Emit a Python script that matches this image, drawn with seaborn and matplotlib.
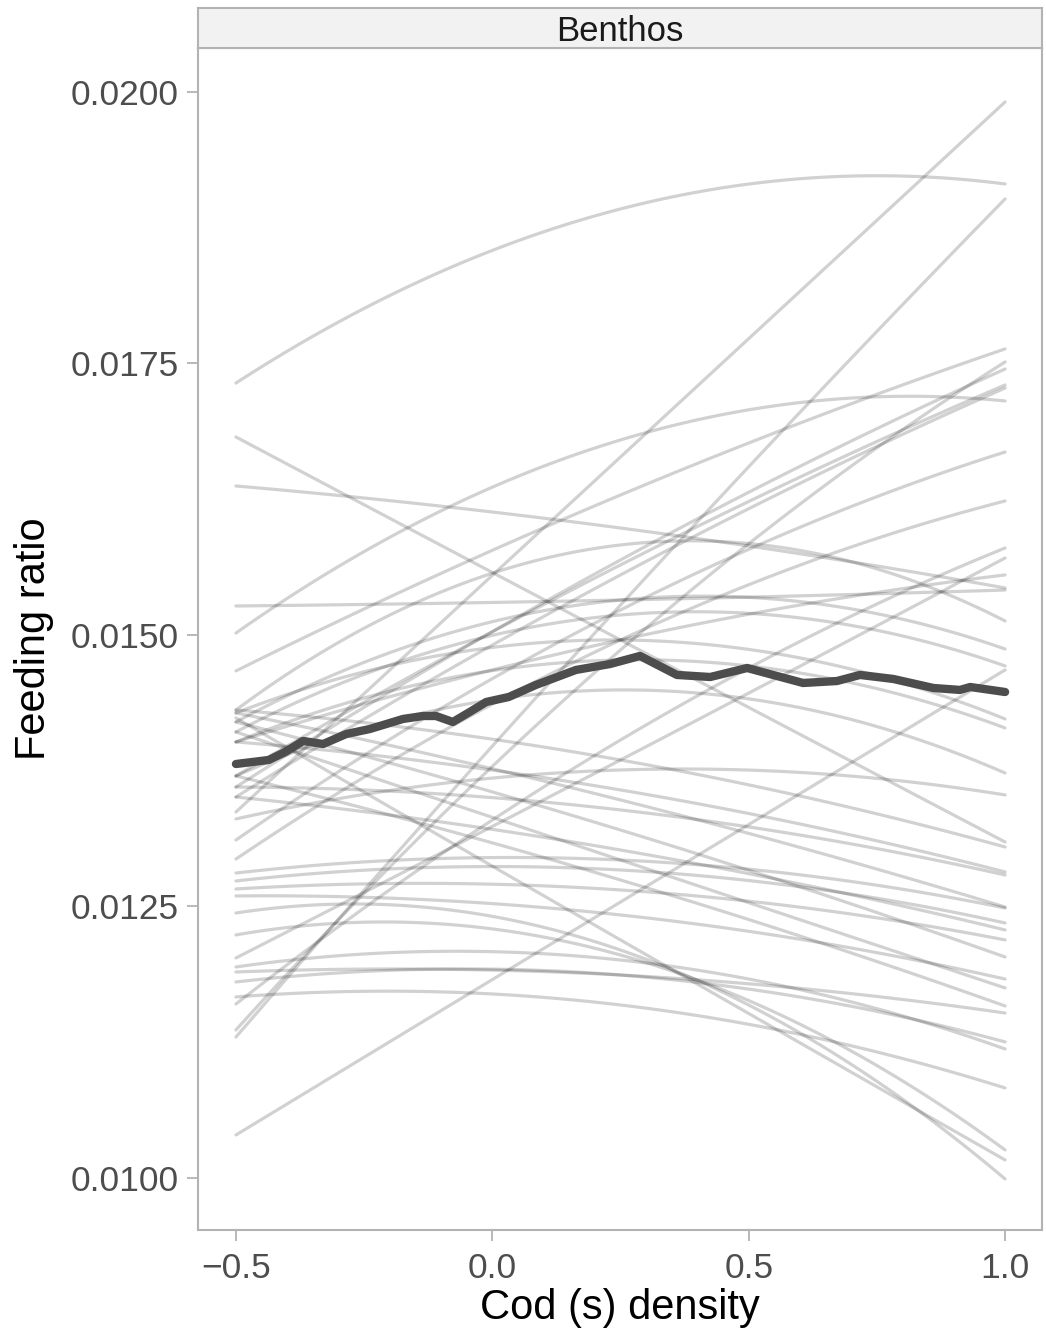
import numpy as np
import pandas as pd
import matplotlib
matplotlib.use("Agg")
import matplotlib.pyplot as plt
import seaborn as sns

# Posterior draws: each curve is a quadratic in cod density, fixed by its
# predicted feeding ratio at density -0.5, 0.25 and 1.0
x_knots = [-0.5, 0.25, 1.0]

draw_start = [
    0.017320, 0.013370, 0.011298, 0.015018, 0.014669, 0.011363, 0.013600,
    0.013702, 0.013508, 0.013112, 0.012937, 0.011602, 0.012026, 0.014015,
    0.010396,
    0.016823, 0.016372, 0.015267, 0.014236, 0.012440, 0.012238, 0.011667,
    0.011943, 0.011805, 0.011897, 0.014309, 0.014199, 0.014107, 0.014282,
    0.014015, 0.013702, 0.013306, 0.014309, 0.014015, 0.013600, 0.014282,
    0.012808, 0.012735, 0.013508, 0.012661, 0.014199, 0.012597, 0.014107,
    0.013702,
]
draw_mid = [
    0.018923, 0.016639, 0.015276, 0.016796, 0.016289, 0.014862, 0.015691,
    0.015645, 0.015553, 0.015230, 0.014954, 0.014033, 0.013849, 0.014954,
    0.012541,
    0.014954, 0.015985, 0.015322, 0.012192, 0.012099, 0.012053, 0.011593,
    0.012007, 0.011869, 0.011869, 0.015829, 0.015322, 0.015184, 0.014954,
    0.014770, 0.014494, 0.013757, 0.013849, 0.013573, 0.013389, 0.013481,
    0.012928, 0.012836, 0.013020, 0.012652, 0.013204, 0.012422, 0.012928,
    0.012744,
]
draw_end = [
    0.019153, 0.019908, 0.019015, 0.017155, 0.017634, 0.017514, 0.017449,
    0.017302, 0.017274, 0.016685, 0.016234, 0.015801, 0.015709, 0.015553,
    0.014678,
    0.013094, 0.015433, 0.015414, 0.010166, 0.009991, 0.010258, 0.010829,
    0.011188, 0.011253, 0.011519, 0.015129, 0.014871, 0.014715, 0.014227,
    0.014144, 0.013729, 0.013527, 0.013048, 0.012818, 0.012790, 0.012495,
    0.012486, 0.012348, 0.012284, 0.012192, 0.012035, 0.011832, 0.011750,
    0.011584,
]

# Median across draws
median_x = [
    -0.500, -0.436, -0.404, -0.369, -0.330, -0.285, -0.239, -0.174, -0.135,
    -0.110, -0.077, -0.044, -0.012, 0.032, 0.085, 0.163, 0.230, 0.288,
    0.360, 0.425, 0.497, 0.606, 0.672, 0.717, 0.782, 0.860, 0.912, 0.932,
    1.000,
]
median_y = [
    0.013812, 0.013849, 0.013923, 0.014024, 0.013996, 0.014088, 0.014134,
    0.014227, 0.014254, 0.014254, 0.014199, 0.014291, 0.014383, 0.014429,
    0.014540, 0.014678, 0.014733, 0.014807, 0.014632, 0.014613, 0.014696,
    0.014558, 0.014576, 0.014632, 0.014595, 0.014512, 0.014494, 0.014521,
    0.014475,
]

y_ticks = [0.0100, 0.0125, 0.0150, 0.0175, 0.0200]
x_ticks = [-0.5, 0.0, 0.5, 1.0]
x_tick_labels = ["\u22120.5", "0.0", "0.5", "1.0"]

# Long-form table of all draw curves
grid = np.linspace(-0.5, 1.0, 80)
rows = []
for i, (a, b, c) in enumerate(zip(draw_start, draw_mid, draw_end)):
    coef = np.polyfit(x_knots, [a, b, c], 2)
    vals = np.polyval(coef, grid)
    rows.append(pd.DataFrame({"draw": i, "density": grid, "ratio": vals}))
draws = pd.concat(rows, ignore_index=True)
median = pd.DataFrame({"density": median_x, "ratio": median_y})

sns.set_theme(style="white")
plt.rcParams["font.family"] = ["Liberation Sans", "DejaVu Sans"]

W, H = 1046, 1334
fig = plt.figure(figsize=(W / 100, H / 100), dpi=100)
ax = fig.add_axes([198 / W, 1 - 1230 / H, (1042 - 198) / W, (1230 - 48) / H])

sns.lineplot(data=draws, x="density", y="ratio", units="draw", estimator=None,
             color="black", alpha=0.18, linewidth=2.3, ax=ax, legend=False)
sns.lineplot(data=median, x="density", y="ratio", color="#4d4d4d",
             linewidth=6.0, ax=ax, legend=False)

ax.set_xlim(-0.574, 1.072)
ax.set_ylim(0.009521, 0.020405)
ax.set_yticks(y_ticks)
ax.set_yticklabels([f"{v:.4f}" for v in y_ticks])
ax.set_xticks(x_ticks)
ax.set_xticklabels(x_tick_labels)
ax.tick_params(axis="both", direction="out", length=8, width=1.3,
               color="#b3b3b3", labelsize=25.5, labelcolor="#4d4d4d", pad=6,
               left=True, bottom=True)
ax.tick_params(axis="x", pad=8)
for s in ax.spines.values():
    s.set_color("#b3b3b3")
    s.set_linewidth(1.5)
ax.set_xlabel("Cod (s) density", fontsize=30, color="black", labelpad=2)
ax.set_ylabel("Feeding ratio", fontsize=30, color="black", labelpad=12)

# Facet strip
strip = fig.add_axes([198 / W, 1 - 48 / H, (1042 - 198) / W, 40 / H])
strip.set_facecolor("#f2f2f2")
strip.set_xticks([])
strip.set_yticks([])
for s in strip.spines.values():
    s.set_color("#b3b3b3")
    s.set_linewidth(1.5)
strip.text(0.5, 0.42, "Benthos", ha="center", va="center", fontsize=25,
           color="#1a1a1a", transform=strip.transAxes)

fig.savefig("out.png", dpi=100, facecolor="white")
